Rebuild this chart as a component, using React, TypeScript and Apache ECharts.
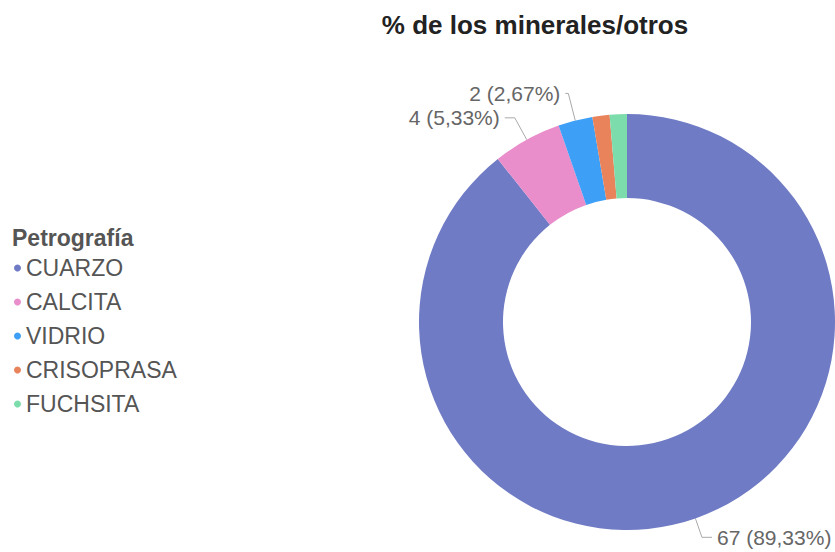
import React, { useEffect, useRef } from "react";
import * as echarts from "echarts";

const chartTitle = "% de los minerales/otros";
const legendTitle = "Petrografía";
const categories = ["CUARZO", "CALCITA", "VIDRIO", "CRISOPRASA", "FUCHSITA"];
const values = [67, 4, 2, 1, 1];
const colors = ["#6f7bc4", "#e98dcb", "#3d9ff6", "#e8835b", "#7ddcab"];
const labelShown = [true, true, true, false, false];
const lineLength = [20, 25, 28, 20, 20];
const lineLength2 = [10, 10, 3, 10, 10];

export default function App() {
  const ref = useRef<HTMLDivElement>(null);
  useEffect(() => {
    if (!ref.current) return;
    document.body.style.margin = "0";
    document.body.style.overflow = "hidden";
    const chart = echarts.init(ref.current, undefined, { renderer: "svg" });
    const font = "'Liberation Sans', Arial, sans-serif";
    const total = values.reduce((a, b) => a + b, 0);
    chart.setOption({
      animation: false,
      backgroundColor: "#ffffff",
      color: colors,
      title: [
        {
          text: chartTitle,
          left: 535,
          textAlign: "center",
          top: 12,
          padding: 0,
          textStyle: { fontFamily: font, fontSize: 26, fontWeight: "bold", color: "#222222" },
        },
        {
          text: legendTitle,
          left: 12,
          top: 226,
          padding: 0,
          textStyle: { fontFamily: font, fontSize: 23, fontWeight: "bold", color: "#555555" },
        },
      ],
      legend: {
        orient: "vertical",
        left: 14,
        top: 256,
        padding: 0,
        icon: "circle",
        itemWidth: 7,
        itemHeight: 7,
        itemGap: 10,
        textStyle: { fontFamily: font, fontSize: 23, color: "#555555", lineHeight: 24 },
        data: categories,
      },
      series: [
        {
          type: "pie",
          center: [627, 322],
          radius: [124, 208],
          startAngle: 90,
          clockwise: true,
          avoidLabelOverlap: false,
          label: {
            show: true,
            fontFamily: font,
            fontSize: 21,
            color: "#666666",
            formatter: (p: any) =>
              `${p.value} (${((p.value / total) * 100).toFixed(2).replace(".", ",")}%)`,
          },
          labelLine: {
            show: true,
            lineStyle: { color: "#aaaaaa", width: 1 },
          },
          emphasis: { disabled: true },
          data: categories.map((name, i) => ({
            name,
            value: values[i],
            label: { show: labelShown[i] },
            labelLine: { show: labelShown[i], length: lineLength[i], length2: lineLength2[i] },
          })),
        },
      ],
    });
    return () => chart.dispose();
  }, []);
  return (
    <div
      ref={ref}
      style={{ position: "fixed", left: 0, top: 0, width: 835, height: 552 }}
    />
  );
}
